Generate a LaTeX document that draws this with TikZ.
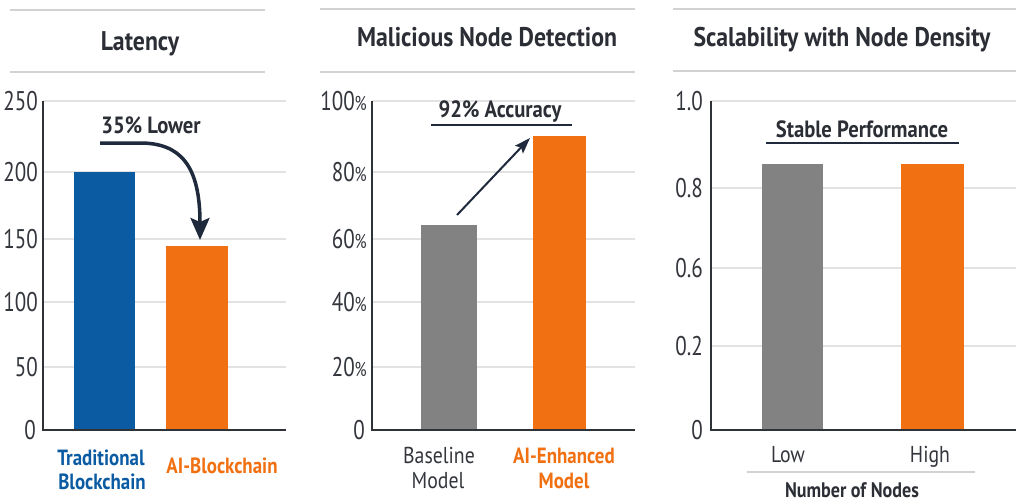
\documentclass[tikz,border=0pt]{standalone}
\usepackage{fontspec}
\setmainfont{PT Sans}
\newfontfamily\lab{PT Sans}[FakeStretch=0.86]
\newfontfamily\tck{PT Sans}[FakeStretch=0.78]
\newfontfamily\ttl{PT Sans}[FakeStretch=0.88]
\usetikzlibrary{arrows.meta}
\definecolor{blueb}{HTML}{0B5BA3}
\definecolor{orangeb}{HTML}{F07012}
\definecolor{grayb}{HTML}{828282}
\definecolor{darkt}{HTML}{2B2E35}
\definecolor{tickc}{HTML}{33363C}
\definecolor{rulegray}{HTML}{D2D2D2}
\definecolor{gridgray}{HTML}{E2E2E2}
\definecolor{axisc}{HTML}{2F3237}
\definecolor{navy}{HTML}{1F2A3C}
\begin{document}
\begin{tikzpicture}[x=1pt,y=-1pt,
  rule/.style={draw=rulegray, line width=1.5pt},
  gridl/.style={draw=gridgray, line width=1.3pt},
  axisl/.style={draw=axisc, line width=2pt},
  bar/.style={inner sep=0pt, outer sep=0pt, anchor=south west, draw=none},
  ticklab/.style={font=\tck\fontsize{27}{27}\selectfont, text=tickc, anchor=base east, inner sep=0pt},
  title/.style={font=\ttl\bfseries\fontsize{27}{27}\selectfont, text=darkt, anchor=base, inner sep=0pt},
  catlab/.style={font=\lab\bfseries\fontsize{22}{22}\selectfont, anchor=base, inner sep=0pt},
  catreg/.style={font=\lab\fontsize{23}{23}\selectfont, text=tickc, anchor=base, inner sep=0pt},
  note/.style={font=\ttl\bfseries\fontsize{23.5}{23.5}\selectfont, text=darkt, anchor=base, inner sep=0pt}
]
\useasboundingbox (0,0) rectangle (1016,503);
\fill[white] (0,0) rectangle (1016,503);

% ---------------- Panel 1: Latency ----------------
\draw[rule] (10,10) -- (265,10);
\node[title] (t1) at (140,50) {Latency};
\draw[rule] (10,72) -- (265,72);
\foreach \yy in {101,172,239,302,367} \draw[gridl] (43,\yy) -- (286,\yy);
\node[bar, fill=blueb, minimum width=61pt, minimum height=258pt] (b1) at (74,430) {};
\node[bar, fill=orangeb, minimum width=62pt, minimum height=184pt] (o1) at (166,430) {};
\draw[axisl] (43,101) -- (43,430) -- (286,430);
\node[ticklab] (y250) at (38,110) {250};
\node[ticklab] (y200) at (38,181) {200};
\node[ticklab] (y150) at (38,248) {150};
\node[ticklab] (y100) at (38,311) {100};
\node[ticklab] (y50) at (38,376) {50};
\node[ticklab] (y0a) at (36,439) {0};
\node[catlab, text=blueb] (c1a) at (101,465) {Traditional};
\node[catlab, text=blueb] (c1b) at (102,489) {Blockchain};
\node[catlab, text=orangeb] (c2) at (222,473) {AI-Blockchain};
\node[note] (n1) at (151,133) {35\% Lower};
\coordinate (a1s) at (100,143);
\draw[navy, line width=3.5pt, -{Stealth[length=22pt, width=19pt, inset=4pt]}]
  (a1s) -- (140,143) .. controls (180,143) and (200,165) .. ([xshift=3pt,yshift=6pt]o1.north);

% ---------------- Panel 2: Malicious Node Detection ----------------
\draw[rule] (320,9) -- (635,9);
\node[title] (t2) at (487,47) {Malicious Node Detection};
\draw[rule] (320,72) -- (635,72);
\foreach \yy in {101,172,239,302,367} \draw[gridl] (372,\yy) -- (635,\yy);
\node[bar, fill=grayb, minimum width=56pt, minimum height=205pt] (g2) at (421,430) {};
\node[bar, fill=orangeb, minimum width=53pt, minimum height=294pt] (o2) at (533,430) {};
\draw[axisl] (372,101) -- (372,430) -- (635,430);
\node[ticklab] (p100) at (367,110) {100{\fontsize{20}{20}\selectfont\%}};
\node[ticklab] (p80) at (367,181) {80{\fontsize{20}{20}\selectfont\%}};
\node[ticklab] (p60) at (367,248) {60{\fontsize{20}{20}\selectfont\%}};
\node[ticklab] (p40) at (367,311) {40{\fontsize{20}{20}\selectfont\%}};
\node[ticklab] (p20) at (367,376) {20{\fontsize{20}{20}\selectfont\%}};
\node[ticklab] (p0) at (365,439) {0};
\node[catreg] (c3a) at (439,463) {Baseline};
\node[catreg] (c3b) at (438,488) {Model};
\node[catlab, text=orangeb] (c4a) at (564,463) {AI-Enhanced};
\node[catlab, text=orangeb] (c4b) at (564,488) {Model};
\node[note] (n2) at (500,117) {92\% Accuracy};
\draw[navy, line width=1.5pt] (431,125) -- (572,125);
\draw[navy, line width=2pt, -{Stealth[length=16pt, width=11pt, inset=3pt]}]
  ([xshift=8pt,yshift=10pt]g2.north) -- ([xshift=-3pt,yshift=-2pt]o2.north west);

% ---------------- Panel 3: Scalability ----------------
\draw[rule] (673,9) -- (1016,9);
\node[title] (t3) at (842,47) {Scalability with Node Density};
\draw[rule] (673,71) -- (1016,71);
\foreach \yy in {101,188,268,346} \draw[gridl] (711,\yy) -- (1016,\yy);
\node[bar, fill=grayb, minimum width=61pt, minimum height=266pt] (g3) at (762,430) {};
\node[bar, fill=orangeb, minimum width=63pt, minimum height=266pt] (o3) at (901,430) {};
\draw[axisl] (711,101) -- (711,430) -- (1016,430);
\node[ticklab] (s10) at (703,110) {1.0};
\node[ticklab] (s08) at (703,197) {0.8};
\node[ticklab] (s06) at (703,277) {0.6};
\node[ticklab] (s02) at (703,355) {0.2};
\node[ticklab] (s0) at (703,439) {0};
\node[note] (n3) at (862,137) {Stable Performance};
\draw[navy, line width=1.5pt] (766,143) -- (959,143);
\node[catreg] (c5) at (788,462) {Low};
\node[catreg] (c6) at (930,462) {High};
\draw[rule] (747,472) -- (975,472);
\node[note, font=\lab\bfseries\fontsize{21}{21}\selectfont] (xl) at (852,497) {Number of Nodes};
\end{tikzpicture}
\end{document}
